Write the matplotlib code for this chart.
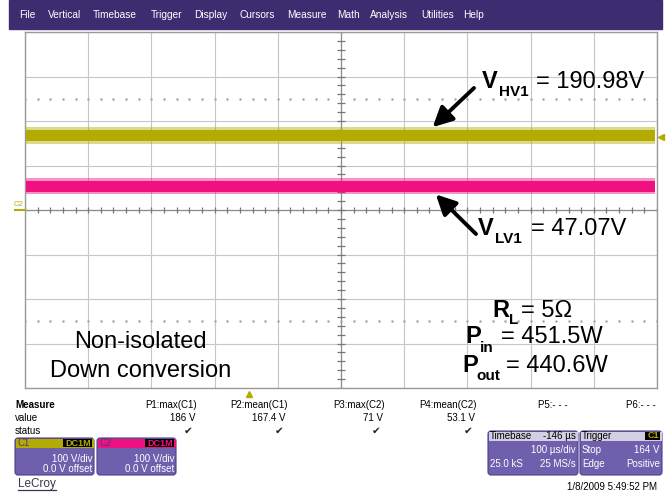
import numpy as np
import matplotlib
matplotlib.use("Agg")
import matplotlib.pyplot as plt
from matplotlib.patches import Rectangle, FancyBboxPatch

W, H = 668, 497

# menu bar
menu_items = ["File", "Vertical", "Timebase", "Trigger", "Display", "Cursors",
              "Measure", "Math", "Analysis", "Utilities", "Help"]
menu_x = [19, 48, 93, 151, 194, 240, 287, 337, 370, 421, 463]

# timebase (us) and vertical (V), 100 us/div, 100 V/div
t_left, t_right = -354, 646
trig_level = 164

# traces: mean, solid band, spike extent (V)
c1_mean, c1_max = 167.4, 186.0
c1_band = [154, 180]
c1_spread = [149, 186]
c2_mean, c2_max = 53.1, 71.0
c2_band = [41, 66]
c2_spread = [35, 71]

# measurement row
meas_labels = ["P1:max(C1)", "P2:mean(C1)", "P3:max(C2)", "P4:mean(C2)", "P5:- - -", "P6:- - -"]
meas_values = ["186 V", "167.4 V", "71 V", "53.1 V", "", ""]
meas_ok = [True, True, True, True, False, False]
meas_x = [197, 288, 385, 477, 568, 656]

YEL = "#b3ab00"
PINK = "#f0107f"
PURP = "#6f5fac"
BAR = "#3e2c70"

plt.rcParams["font.family"] = ["Liberation Sans", "DejaVu Sans"]

fig = plt.figure(figsize=(W / 100, H / 100), dpi=100)

# ---- scope grid ----
ax = fig.add_axes([25 / W, 1 - 388 / H, 632 / W, 356 / H])
ax.set_xlim(t_left, t_right)
ax.set_ylim(-400, 400)
ax.set_xticks(np.arange(t_left, t_right + 1, 100))
ax.set_yticks(np.arange(-400, 401, 100))
ax.tick_params(length=0, labelbottom=False, labelleft=False)
ax.grid(color="#c6c6c6", lw=0.8)
for s in ax.spines.values():
    s.set_color("#9a9a9a")
    s.set_linewidth(1.0)

tc = t_left + 500
ax.axhline(0, color="#8c8c8c", lw=0.9)
ax.axvline(tc, color="#8c8c8c", lw=0.9)
xt = np.arange(t_left, t_right + 1, 20)
yt = np.arange(-400, 401, 20)
ax.plot(xt, np.zeros(len(xt)), ls="none", marker="|", ms=5, mew=0.9, color="#777777")
ax.plot(np.full(len(yt), tc), yt, ls="none", marker="_", ms=6, mew=0.9, color="#777777")
for yd in (250, -250):
    ax.plot(xt, np.full(len(xt), yd), ls="none", marker=".", ms=1.6, color="#a8a8a8")

span = [t_left + 2, t_right - 3]
ax.fill_between(span, c1_spread[0], c1_spread[1], color=YEL, alpha=0.45, lw=0, zorder=4)
ax.fill_between(span, c1_band[0], c1_band[1], color=YEL, lw=0, zorder=5)
ax.fill_between(span, c2_spread[0], c2_spread[1], color=PINK, alpha=0.45, lw=0, zorder=4)
ax.fill_between(span, c2_band[0], c2_band[1], color=PINK, lw=0, zorder=5)

# trigger level / position markers
ax.plot([t_right + 6], [trig_level], marker="<", ms=5, color=YEL, clip_on=False)
ax.plot([0], [-414], marker="^", ms=5, color=YEL, clip_on=False)

# ---- overlay in pixel coords ----
ov = fig.add_axes([0, 0, 1, 1])
ov.set_xlim(0, W)
ov.set_ylim(H, 0)
ov.axis("off")

ov.add_patch(Rectangle((9, 0), 653, 29, color=BAR))
for name, x in zip(menu_items, menu_x):
    ov.text(x, 15, name, color="white", fontsize=7.3, va="center", ha="left")

# ground marker
ov.text(14, 204, "C2", color=YEL, fontsize=5.5, va="center")
ov.plot([15, 25], [210, 210], color=YEL, lw=1.5)

# annotations
big = 17
ov.text(482, 88, "V", fontsize=big, fontweight="bold")
ov.text(499, 96, "HV1", fontsize=11, fontweight="bold")
ov.text(536, 88, "= 190.98V", fontsize=big)
ov.text(478, 235, "V", fontsize=big, fontweight="bold")
ov.text(495, 243, "LV1", fontsize=11, fontweight="bold")
ov.text(531, 235, "= 47.07V", fontsize=big)
arrow = dict(arrowstyle="-|>", lw=2.8, color="black", mutation_scale=30,
             shrinkA=0, shrinkB=0)
ov.annotate("", xy=(291, c1_max), xycoords=ax.transData, xytext=(474, 88),
            textcoords="data", arrowprops=arrow)
ov.annotate("", xy=(296, c2_spread[0]), xycoords=ax.transData, xytext=(476, 234),
            textcoords="data", arrowprops=arrow)

ov.text(492, 317, "R", fontsize=big, fontweight="bold")
ov.text(509, 324, "L", fontsize=11, fontweight="bold")
ov.text(521, 317, "= 5\u03a9", fontsize=big)
ov.text(465, 343, "P", fontsize=big, fontweight="bold")
ov.text(480, 352, "in", fontsize=11, fontweight="bold")
ov.text(501, 343, "= 451.5W", fontsize=big)
ov.text(462, 372, "P", fontsize=big, fontweight="bold")
ov.text(476, 380, "out", fontsize=11, fontweight="bold")
ov.text(506, 372, "= 440.6W", fontsize=big)

ov.text(140, 348, "Non-isolated", fontsize=big, ha="center")
ov.text(141, 377, "Down conversion", fontsize=big, ha="center")

# ---- measure table ----
sm = 7
ov.text(15, 405, "Measure", fontsize=sm, fontweight="bold", va="center")
ov.text(15, 418, "value", fontsize=sm, va="center")
ov.text(15, 431, "status", fontsize=sm, va="center")
for lab, val, ok, x in zip(meas_labels, meas_values, meas_ok, meas_x):
    ov.text(x, 405, lab, fontsize=sm, ha="right", va="center")
    if val:
        ov.text(x - 2, 418, val, fontsize=sm, ha="right", va="center")
    if ok:
        ov.text(x - 4, 431, "\u2714", fontsize=7.5, ha="right", va="center",
                family=["DejaVu Sans"], color="#222222")


def box(x0, y0, w, h, head_col):
    ov.add_patch(FancyBboxPatch((x0, y0), w, h, boxstyle="round,pad=0,rounding_size=3",
                                fc=PURP, ec="#4d3f8a", lw=0.8))
    ov.add_patch(Rectangle((x0 + 0.5, y0 + 0.5), w - 1, 9, fc=head_col, lw=0))


for x0, col, name in [(15, YEL, "C1"), (97, PINK, "C2")]:
    box(x0, 438, 79, 37, col)
    ov.text(x0 + 3, 443, name, fontsize=sm, va="center", color="#4a3a80")
    ov.add_patch(Rectangle((x0 + 48, 439), 29, 8, fc="black", lw=0))
    ov.text(x0 + 76, 443, "DC1M", fontsize=6.5, va="center", ha="right", color=col,
            fontweight="bold")
    ov.text(x0 + 77, 459, "100 V/div", fontsize=sm, va="center", ha="right", color="white")
    ov.text(x0 + 77, 469, "0.0 V offset", fontsize=sm, va="center", ha="right", color="white")

box(488, 431, 90, 44, "#d2cfe2")
ov.text(490, 436, "Timebase", fontsize=sm, va="center")
ov.text(576, 436, "-146 \u00b5s", fontsize=sm, va="center", ha="right")
ov.text(576, 450, "100 \u00b5s/div", fontsize=sm, va="center", ha="right", color="white")
ov.text(490, 464, "25.0 kS", fontsize=sm, va="center", color="white")
ov.text(576, 464, "25 MS/s", fontsize=sm, va="center", ha="right", color="white")

box(580, 431, 82, 44, "#d2cfe2")
ov.text(582, 436, "Trigger", fontsize=sm, va="center")
ov.add_patch(Rectangle((645, 432), 15, 8, fc="black", lw=0))
ov.text(659, 436, "C1", fontsize=6.5, va="center", ha="right", color=YEL, fontweight="bold")
ov.text(582, 450, "Stop", fontsize=sm, va="center", color="white")
ov.text(660, 450, "164 V", fontsize=sm, va="center", ha="right", color="white")
ov.text(582, 464, "Edge", fontsize=sm, va="center", color="white")
ov.text(660, 464, "Positive", fontsize=sm, va="center", ha="right", color="white")

ov.text(657, 487, "1/8/2009 5:49:52 PM", fontsize=sm, va="center", ha="right")
ov.text(18, 484, "LeCroy", fontsize=8.5, va="center", color="#3a3850")
ov.plot([18, 56], [490, 490], color="#3a3850", lw=0.9)

fig.savefig("out.png", dpi=100)
